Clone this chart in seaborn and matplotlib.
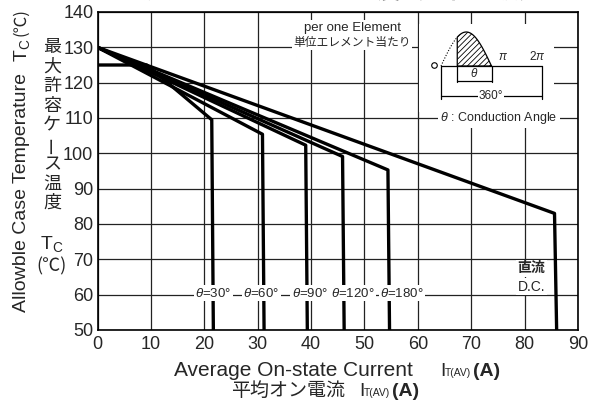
import numpy as np
import pandas as pd
import matplotlib.pyplot as plt
import seaborn as sns

# curve data
curve_names = ['30', '60', '90', '120', '180', 'DC']
i_30 = [0, 9.2, 21.4, 21.7]
t_30 = [125, 125, 109.5, 50]
i_60 = [0, 30.9, 31.2]
t_60 = [130, 105.4, 50]
i_90 = [0, 39.0, 39.3]
t_90 = [130, 102.3, 50]
i_120 = [0, 45.9, 46.2]
t_120 = [130, 99.1, 50]
i_180 = [0, 54.4, 54.7]
t_180 = [130, 95.3, 50]
i_dc = [0, 85.6, 86.0]
t_dc = [130, 83.0, 50]

theta_labels = ['30°', '60°', '90°', '120°', '180°']
theta_label_x = [21.7, 30.7, 39.8, 47.9, 57.0]

x_ticks = list(range(0, 91, 10))
y_ticks = list(range(50, 141, 10))

W, H = 591, 401

sns.set_style('white')
plt.rcParams['font.family'] = ['Liberation Sans', 'Noto Sans CJK JP', 'DejaVu Sans']
plt.rcParams['mathtext.fontset'] = 'custom'
plt.rcParams['mathtext.rm'] = 'Liberation Sans'
plt.rcParams['mathtext.it'] = 'Liberation Sans:italic'
plt.rcParams['mathtext.bf'] = 'Liberation Sans:bold'
plt.rcParams['hatch.linewidth'] = 0.6

JP = ['Noto Sans CJK JP', 'DejaVu Sans']

df = pd.concat([
    pd.DataFrame({'curve': n, 'I': i, 'T': t})
    for n, i, t in zip(curve_names,
                       [i_30, i_60, i_90, i_120, i_180, i_dc],
                       [t_30, t_60, t_90, t_120, t_180, t_dc])
], ignore_index=True)

fig = plt.figure(figsize=(W / 100, H / 100), dpi=100)
ax = fig.add_axes([97.5 / W, 1 - 330 / H, (578 - 97.5) / W, (330 - 12) / H])

sns.lineplot(data=df, x='I', y='T', hue='curve', palette={n: 'black' for n in curve_names},
             sort=False, estimator=None, legend=False, lw=2.4, ax=ax)

ax.set_xlim(0, 90)
ax.set_ylim(50, 140)
ax.set_xticks(x_ticks)
ax.set_yticks(y_ticks)
ax.set_xlabel('')
ax.set_ylabel('')
ax.grid(True, color='#222222', lw=0.9)
ax.tick_params(length=0, labelsize=13)
ax.tick_params(axis='x', pad=4)
ax.tick_params(axis='y', pad=3)
for s in ax.spines.values():
    s.set_color('black')
    s.set_linewidth(1.2)

box = dict(fc='white', ec='none', pad=1)

# theta labels along the 60 line
for lab, xx in zip(theta_labels, theta_label_x):
    ax.text(xx, 60.4, r'$\theta$=' + lab, ha='center', va='center', fontsize=9.5, bbox=box)

ax.text(81.3, 67.5, '直流', ha='center', va='center', fontsize=10, fontweight='bold', family=JP, bbox=box)
ax.text(81.3, 62.3, 'D.C.', ha='center', va='center', fontsize=10, bbox=box)

ax.text(47.7, 135.5, 'per one Element', ha='center', va='center', fontsize=9.5, bbox=box)
ax.text(47.7, 131.4, '単位エレメント当たり', ha='center', va='center', fontsize=8.5, family=JP, bbox=box)

# inset explaining conduction angle (pixel coordinates)
ins = fig.add_axes([419 / W, 1 - 112 / H, (554 - 419) / W, (112 - 24) / H])
ins.set_xlim(419, 554)
ins.set_ylim(112, 24)
ins.set_xticks([])
ins.set_yticks([])
ins.set_facecolor('white')
for s in ins.spines.values():
    s.set_visible(False)

k = 'black'
ins.plot([441, 542], [66, 66], color=k, lw=0.9)
ins.plot([441, 441], [66, 99], color=k, lw=0.9)
ins.plot([542, 542], [66, 99], color=k, lw=0.9)
ins.plot([441, 542], [96, 96], color=k, lw=0.9)
ins.text(491, 96, '360°', ha='center', va='center', fontsize=8.5, bbox=dict(fc='white', ec='none', pad=0.5))
ph = np.linspace(0, np.pi, 60)
px = 441 + 50.5 * ph / np.pi
py = 66 - 34 * np.sin(ph)
start = px >= 456.7
ins.plot(px[~start], py[~start], color=k, lw=0.8, ls=(0, (1, 1.5)))
ins.fill_between(px[start], py[start], 66, facecolor='white', edgecolor=k, hatch='//////', lw=0.9)
ins.plot([456.7, 456.7], [66, 82], color=k, lw=0.9)
ins.plot([491.5, 491.5], [66, 82], color=k, lw=0.9)
ins.plot([456.7, 491.5], [81, 81], color=k, lw=0.9)
ins.text(474, 74, r'$\theta$', ha='center', va='center', fontsize=8.5)
ins.text(503, 57, r'$\pi$', ha='center', va='center', fontsize=8.5)
ins.text(537, 57, r'2$\pi$', ha='center', va='center', fontsize=8.5)
ins.plot([434], [65], marker='o', ms=4, mfc='white', mec=k, mew=0.8)
ins.text(499, 118, r'$\theta$ : Conduction Angle', ha='center', va='center', fontsize=9,
         bbox=dict(fc='white', ec='none', pad=1.5), clip_on=False)

# left axis labels
fig.text(22 / W, 1 - 193 / H, 'Allowble Case Temperature', rotation=90, ha='center', va='center', fontsize=14)
fig.text(22 / W, 1 - 50 / H, r'T$_{\rm C}$', rotation=90, ha='center', va='center', fontsize=14)
fig.text(21 / W, 1 - 22 / H, '(℃)', rotation=90, ha='center', va='center', fontsize=12, family=JP)

jp_chars = ['最', '大', '許', '容', 'ケ', 'ー', 'ス', '温', '度']
for n, ch in enumerate(jp_chars):
    fig.text(52 / W, 1 - (47 + 19.5 * n) / H, ch, ha='center', va='center', fontsize=13,
             family=JP, rotation=90 if ch == 'ー' else 0)
fig.text(52 / W, 1 - 244 / H, r'T$_{\rm C}$', ha='center', va='center', fontsize=14)
fig.text(51 / W, 1 - 266 / H, '(℃)', ha='center', va='center', fontsize=13, family=JP)


# x axis labels, built from pieces so the small T(AV) sits on the baseline
def label_line(y, head, head_x, head_kw, i_x):
    fy = 1 - y / H
    fig.text(head_x / W, fy, head, ha='left', va='baseline', **head_kw)
    fig.text(i_x / W, fy, 'I', ha='left', va='baseline', fontsize=14)
    fig.text((i_x + 5) / W, fy, 'T(AV)', ha='left', va='baseline', fontsize=7.5)
    fig.text((i_x + 33) / W, fy, '(A)', ha='left', va='baseline', fontsize=14, fontweight='bold')


label_line(376, 'Average On-state Current', 174, dict(fontsize=15), 440)
label_line(396, '平均オン電流', 231, dict(fontsize=13.7, family=JP), 359)

# title, cut off at the top as in the source image
fig.text(330 / W, 1 - 2 / H, '電流対最大許容ケース温度（単相半波）', ha='center', va='bottom',
         fontsize=17, fontweight='bold', family=JP)

fig.savefig('out.png', dpi=100)
